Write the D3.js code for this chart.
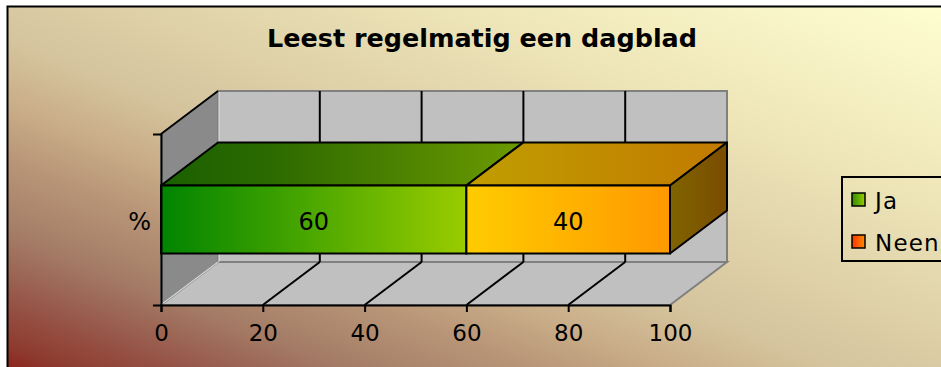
<!DOCTYPE html>
<html>
<head>
<meta charset="utf-8">
<script src="https://cdn.jsdelivr.net/npm/d3@7"></script>
<style>
  html, body { margin: 0; padding: 0; background: #ffffff; }
  svg { display: block; }
  text { font-family: "DejaVu Sans", Verdana, sans-serif; }
</style>
</head>
<body>
<svg id="chart" width="941" height="367"></svg>
<script>
// ---- data ----
const title = "Leest regelmatig een dagblad";
const categories = ["%"];
const seriesNames = ["Ja", "Neen"];
const jaValues = [60];
const neenValues = [40];
const xTicks = [0, 20, 40, 60, 80, 100];

const table = categories.map((c, i) => ({ category: c, Ja: jaValues[i], Neen: neenValues[i] }));

// ---- layout ----
const W = 941, H = 367;
const svg = d3.select("#chart");
const defs = svg.append("defs");

function linGrad(id, stops, x1 = "0%", y1 = "0%", x2 = "100%", y2 = "0%") {
  const g = defs.append("linearGradient").attr("id", id)
    .attr("x1", x1).attr("y1", y1).attr("x2", x2).attr("y2", y2);
  stops.forEach(([o, c]) => g.append("stop").attr("offset", o).attr("stop-color", c));
}

// chart background: dark red bottom-left through tan to pale yellow top-right
linGrad("bg", [
  [0, "#8a1410"], [0.05, "#8e3a2e"], [0.12, "#97584a"], [0.2, "#a47c66"],
  [0.3, "#b99678"], [0.37, "#c9ad88"], [0.45, "#d4c39c"], [0.5, "#d9c9a2"],
  [0.75, "#efe7ba"], [1, "#ffffd2"]
], "0%", "100%", "100%", "0%");

// bar faces per series: front, top, side
const faceFills = {
  Ja:   { front: [[0, "#008400"], [1, "#9acc00"]],
          top:   [[0, "#1a6000"], [0.3, "#2c6a00"], [1, "#6c9a00"]],
          side:  [[0, "#3c6a00"], [1, "#4c6800"]] },
  Neen: { front: [[0, "#ffcc00"], [1, "#ff9900"]],
          top:   [[0, "#c09e00"], [1, "#c27a00"]],
          side:  [[0, "#806400"], [1, "#7a4c00"]] }
};
seriesNames.forEach(s => {
  ["front", "top", "side"].forEach(f => linGrad(`${s}-${f}`, faceFills[s][f]));
});
linGrad("swatch-Ja", [[0, "#2e8c00"], [1, "#9acc00"]]);
linGrad("swatch-Neen", [[0, "#ff3300"], [1, "#ff8c00"]]);

svg.append("rect").attr("x", 7.5).attr("y", 6.5).attr("width", W + 10).attr("height", H + 10)
  .attr("fill", "url(#bg)").attr("stroke", "#000").attr("stroke-width", 2);

// ---- 3D plot geometry ----
const depth = { dx: 57, dy: -43 };
const x = d3.scaleLinear().domain([0, 100]).range([161, 670]);
const y = d3.scaleBand().domain(categories).range([134, 305]).paddingInner(0).paddingOuter(0.757);
const floorY = y.range()[1];
const wallTopY = y.range()[0];

const P = (px, py, back) => back ? [px + depth.dx, py + depth.dy] : [px, py];
const poly = pts => "M" + pts.map(p => p.join(",")).join("L") + "Z";

const plot = svg.append("g");
const x0 = x(0), x1 = x(100);

// side wall
plot.append("path")
  .attr("d", poly([P(x0, wallTopY), P(x0, wallTopY, 1), P(x0, floorY, 1), P(x0, floorY)]))
  .attr("fill", "#8a8a8a").attr("stroke", "#808080").attr("stroke-width", 1.5);
// back wall
plot.append("path")
  .attr("d", poly([P(x0, wallTopY, 1), P(x1, wallTopY, 1), P(x1, floorY, 1), P(x0, floorY, 1)]))
  .attr("fill", "#c0c0c0").attr("stroke", "#808080").attr("stroke-width", 2);
// floor
plot.append("path")
  .attr("d", poly([P(x0, floorY), P(x1, floorY), P(x1, floorY, 1), P(x0, floorY, 1)]))
  .attr("fill", "#c0c0c0").attr("stroke", "#808080").attr("stroke-width", 2);
plot.append("line")
  .attr("x1", P(x0, floorY, 1)[0] + 1).attr("y1", wallTopY + depth.dy + 1)
  .attr("x2", P(x0, floorY, 1)[0] + 1).attr("y2", floorY + depth.dy)
  .attr("stroke", "#e4e4e4").attr("stroke-width", 1);
plot.append("line")
  .attr("x1", x0 + 1).attr("y1", floorY - 1)
  .attr("x2", P(x0, floorY, 1)[0]).attr("y2", floorY + depth.dy)
  .attr("stroke", "#d8d8d8").attr("stroke-width", 1.2);
// top edge of the side wall
plot.append("line")
  .attr("x1", x0).attr("y1", wallTopY)
  .attr("x2", P(x0, wallTopY, 1)[0]).attr("y2", wallTopY + depth.dy)
  .attr("stroke", "#000").attr("stroke-width", 1.8);

// gridlines on back wall and floor
const inner = xTicks.filter(t => t > 0 && t < 100);
plot.selectAll(".gridBack").data(inner).join("line")
  .attr("x1", d => P(x(d), wallTopY, 1)[0]).attr("y1", wallTopY + depth.dy)
  .attr("x2", d => P(x(d), floorY, 1)[0]).attr("y2", floorY + depth.dy)
  .attr("stroke", "#000").attr("stroke-width", 2);
plot.selectAll(".gridFloor").data(inner).join("line")
  .attr("x1", d => P(x(d), floorY, 1)[0]).attr("y1", floorY + depth.dy)
  .attr("x2", d => x(d)).attr("y2", floorY)
  .attr("stroke", "#000").attr("stroke-width", 2);

// ---- stacked 3D bars ----
const stacked = d3.stack().keys(seriesNames)(table);
stacked.forEach(layer => {
  const s = layer.key;
  layer.forEach(seg => {
    const a = x(seg[0]), b = x(seg[1]);
    const t = y(seg.data.category), bt = t + y.bandwidth();
    const g = plot.append("g");
    g.append("path").attr("d", poly([P(a, t), P(a, t, 1), P(b, t, 1), P(b, t)]))
      .attr("fill", `url(#${s}-top)`).attr("stroke", "#000").attr("stroke-width", 2).attr("stroke-linejoin", "round");
    g.append("path").attr("d", poly([P(b, t), P(b, t, 1), P(b, bt, 1), P(b, bt)]))
      .attr("fill", `url(#${s}-side)`).attr("stroke", "#000").attr("stroke-width", 2).attr("stroke-linejoin", "round");
    g.append("path").attr("d", poly([P(a, t), P(b, t), P(b, bt), P(a, bt)]))
      .attr("fill", `url(#${s}-front)`).attr("stroke", "#000").attr("stroke-width", 2);
    g.append("text")
      .attr("x", (a + b) / 2).attr("y", (t + bt) / 2 + 10)
      .attr("text-anchor", "middle").attr("font-size", 24).attr("fill", "#000")
      .text(seg[1] - seg[0]);
  });
});

// ---- axes ----
const xAxis = d3.axisBottom(x).tickValues(xTicks).tickSizeInner(7).tickSizeOuter(7).tickPadding(13);
const gx = svg.append("g").attr("transform", `translate(0,${floorY})`).call(xAxis);
gx.select(".domain").attr("stroke", "#000").attr("stroke-width", 2);
gx.selectAll(".tick line").attr("stroke", "#000").attr("stroke-width", 2);
gx.selectAll(".tick text").attr("font-size", 23).attr("fill", "#000")
  .attr("font-family", "DejaVu Sans, Verdana, sans-serif");

const yAxis = d3.axisLeft(y).tickSizeInner(0).tickSizeOuter(8).tickPadding(10);
const gy = svg.append("g").attr("transform", `translate(${x0},0)`).call(yAxis);
gy.select(".domain").attr("stroke", "#000").attr("stroke-width", 2);
gy.selectAll(".tick text").attr("font-size", 24).attr("fill", "#000").attr("dy", "0.45em")
  .attr("font-family", "DejaVu Sans, Verdana, sans-serif");

// ---- title ----
svg.append("text").attr("x", 482).attr("y", 47).attr("text-anchor", "middle")
  .attr("font-size", 25).attr("font-weight", "bold").attr("fill", "#000")
  .attr("textLength", 430).attr("lengthAdjust", "spacingAndGlyphs")
  .text(title);

// ---- legend ----
const legend = svg.append("g").attr("transform", "translate(842,177)");
legend.append("rect").attr("x", 0).attr("y", 0).attr("width", 130).attr("height", 84)
  .attr("fill", "none").attr("stroke", "#000").attr("stroke-width", 2);
seriesNames.forEach((s, i) => {
  const row = legend.append("g").attr("transform", `translate(10,${16 + i * 42})`);
  row.append("rect").attr("width", 13).attr("height", 13)
    .attr("fill", `url(#swatch-${s})`).attr("stroke", "#000").attr("stroke-width", 1.5);
  row.append("text").attr("x", 23).attr("y", 16).attr("font-size", 23)
    .attr("letter-spacing", 1.2).attr("fill", "#000").text(s);
});
</script>
</body>
</html>
